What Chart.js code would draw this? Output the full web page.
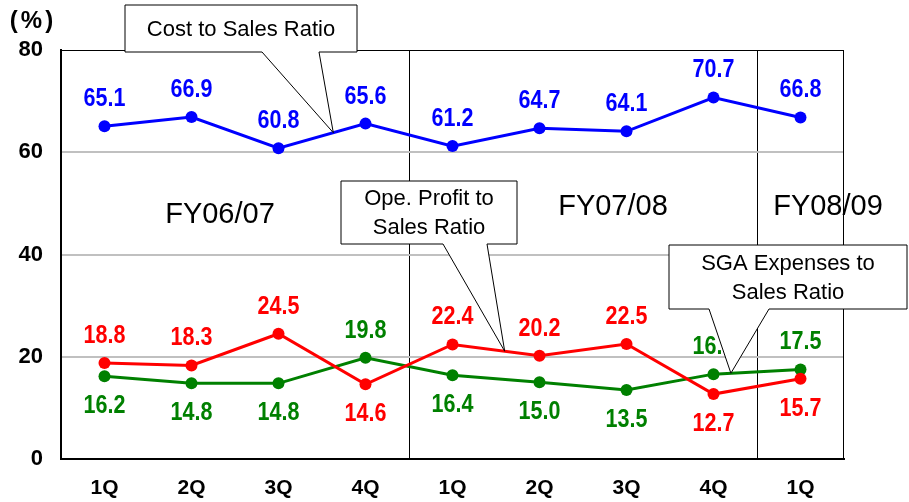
<!DOCTYPE html>
<html><head><meta charset="utf-8">
<script src="https://cdn.jsdelivr.net/npm/chart.js@4/dist/chart.umd.min.js"></script>
<style>html,body{margin:0;padding:0;background:#fff}#wrap{width:909px;height:502px;position:relative}</style>
</head><body><div id="wrap"><canvas id="c"></canvas></div>
<script>
const quarters = ['1Q','2Q','3Q','4Q','1Q','2Q','3Q','4Q','1Q'];
const costRatio = [65.1,66.9,60.8,65.6,61.2,64.7,64.1,70.7,66.8];
const opProfitRatio = [18.8,18.3,24.5,14.6,22.4,20.2,22.5,12.7,15.7];
const sgaRatio = [16.2,14.8,14.8,19.8,16.4,15.0,13.5,16.6,17.5];
const yTicks = [0,20,40,60,80];
const fiscalYears = ['FY06/07','FY07/08','FY08/09'];
const seriesNames = ['Cost to Sales Ratio', 'Ope. Profit to Sales Ratio', 'SGA Expenses to Sales Ratio'];
const costLabelSide = ['a','a','a','a','a','a','a','a','a'];
const opLabelSide = ['a','a','a','b','a','a','a','b','b'];
const sgaLabelSide = ['b','b','b','a','b','b','b','a','a'];
const yearBreaks = [4, 8];

const FONT = "'Liberation Sans', Arial, sans-serif";
Chart.defaults.font.family = FONT;

const colors = ['#0000ff', '#ff0000', '#008000'];
const sides = [costLabelSide, opLabelSide, sgaLabelSide];

function ds(label, data, color) {
  return {label, data, borderColor: color, backgroundColor: color, borderWidth: 3,
    pointRadius: 6, pointHoverRadius: 6, pointBorderWidth: 0, tension: 0, fill: false};
}

function callout(ctx, box, tail, tip, lines, lineGap) {
  ctx.save();
  ctx.beginPath();
  ctx.moveTo(box.l, box.t);
  ctx.lineTo(box.r, box.t);
  ctx.lineTo(box.r, box.b);
  ctx.lineTo(tail[1], box.b);
  ctx.lineTo(tip.x, tip.y);
  ctx.lineTo(tail[0], box.b);
  ctx.lineTo(box.l, box.b);
  ctx.closePath();
  ctx.fillStyle = '#fff';
  ctx.fill();
  ctx.strokeStyle = '#000';
  ctx.lineWidth = 1;
  ctx.stroke();
  ctx.fillStyle = '#000';
  ctx.font = '22px ' + FONT;
  ctx.textAlign = 'center';
  ctx.textBaseline = 'middle';
  const cx = (box.l + box.r) / 2;
  const cy = (box.t + box.b) / 2;
  lines.forEach((ln, i) => {
    ctx.fillText(ln, cx, cy + (i - (lines.length - 1) / 2) * lineGap + 1);
  });
  ctx.restore();
}

function tipOn(chart, dsIndex, i, f) {
  const pts = chart.getDatasetMeta(dsIndex).data;
  return {x: pts[i].x + (pts[i+1].x - pts[i].x) * f, y: pts[i].y + (pts[i+1].y - pts[i].y) * f};
}

function condensedText(ctx, text, x, y, sx) {
  ctx.save();
  ctx.translate(x, y);
  ctx.scale(sx, 1);
  ctx.fillText(text, 0, 0);
  ctx.restore();
}

const decor = {
  id: 'decor',
  beforeDatasetsDraw(chart) {
    const {ctx, chartArea: a} = chart;
    ctx.save();
    ctx.strokeStyle = '#000';
    ctx.lineWidth = 1;
    ctx.strokeRect(a.left + 0.5, a.top + 0.5, a.right - a.left - 1, a.bottom - a.top);
    ctx.restore();
  },
  afterDraw(chart) {
    const {ctx} = chart;
    // value labels
    ctx.save();
    ctx.font = 'bold 25px ' + FONT;
    ctx.textAlign = 'center';
    ctx.textBaseline = 'middle';
    chart.data.datasets.forEach((d, di) => {
      const meta = chart.getDatasetMeta(di);
      meta.data.forEach((pt, i) => {
        const above = sides[di][i] === 'a';
        ctx.fillStyle = colors[di];
        condensedText(ctx, d.data[i].toFixed(1), pt.x, pt.y + (above ? -27 : 30), 0.86);
      });
    });
    ctx.restore();
    // unit
    ctx.save();
    ctx.font = 'bold 24px ' + FONT;
    ctx.fillStyle = '#000';
    ctx.textAlign = 'center';
    ctx.textBaseline = 'middle';
    try { ctx.letterSpacing = '3px'; } catch (e) {}
    ctx.fillText('(%)', 33, 21);
    ctx.restore();
    // fiscal year labels
    ctx.save();
    ctx.font = '29px ' + FONT;
    ctx.fillStyle = '#000';
    ctx.textAlign = 'center';
    ctx.textBaseline = 'middle';
    ctx.fillText(fiscalYears[0], 220, 215);
    ctx.fillText(fiscalYears[1], 613, 207);
    ctx.fillText(fiscalYears[2], 828, 207);
    ctx.restore();
    // callouts
    callout(ctx, {l:125, r:357, t:5, b:52}, [262, 319], tipOn(chart, 0, 2, 0.63), [seriesNames[0]], 0);
    callout(ctx, {l:341, r:517, t:181, b:244}, [443, 487], tipOn(chart, 1, 4, 0.6), ['Ope. Profit to', 'Sales Ratio'], 29);
    callout(ctx, {l:669, r:907, t:245, b:309}, [709, 769], tipOn(chart, 2, 7, 0.2), ['SGA Expenses to', 'Sales Ratio'], 29);
  }
};

new Chart(document.getElementById('c'), {
  type: 'line',
  data: {
    labels: quarters,
    datasets: [
      ds(seriesNames[0], costRatio, colors[0]),
      ds(seriesNames[1], opProfitRatio, colors[1]),
      ds(seriesNames[2], sgaRatio, colors[2])
    ]
  },
  options: {
    responsive: true,
    maintainAspectRatio: false,
    animation: false,
    events: [],
    layout: {padding: {top: 50, right: 65, left: 0, bottom: 0}},
    plugins: {legend: {display: false}, tooltip: {enabled: false}},
    scales: {
      x: {
        offset: true,
        grid: {
          offset: true,
          drawTicks: false,
          lineWidth: 1,
          color: c => yearBreaks.includes(c.index) ? '#000' : 'rgba(0,0,0,0)'
        },
        border: {display: true, color: '#000', width: 2},
        ticks: {color: '#000', font: {size: 21, weight: 'bold'}, padding: 17, maxRotation: 0, autoSkip: false},
        afterFit: s => { s.height = 43; }
      },
      y: {
        min: 0, max: 80,
        afterBuildTicks: s => { s.ticks = yTicks.map(v => ({value: v})); },
        grid: {
          drawTicks: false,
          lineWidth: 2,
          color: c => (c.tick && c.tick.value === 80) ? 'rgba(0,0,0,0)' : '#c0c0c0'
        },
        border: {display: true, color: '#000', width: 2},
        ticks: {color: '#000', font: {size: 22, weight: 'bold'}, padding: 18},
        afterFit: s => { s.width = 61; }
      }
    }
  },
  plugins: [decor]
});
</script>
</body></html>
